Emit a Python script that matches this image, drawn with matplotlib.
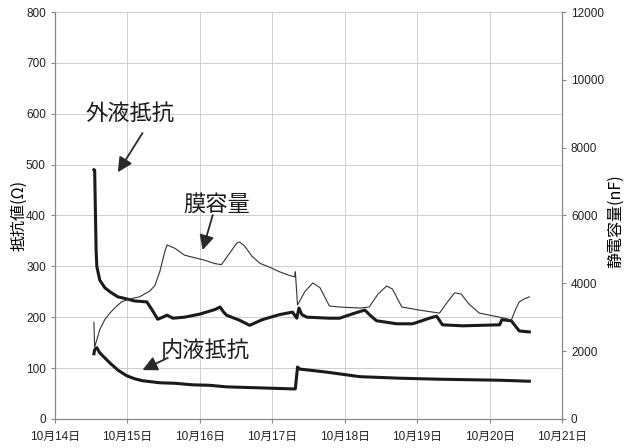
import matplotlib
matplotlib.use('Agg')
import matplotlib.pyplot as plt

plt.rcParams['font.family'] = ['Liberation Sans', 'Noto Sans CJK JP', 'DejaVu Sans']

# time axis in days (10/14 = 14.0)
day_ticks = [14, 15, 16, 17, 18, 19, 20, 21]
day_labels = ['10月14日', '10月15日', '10月16日', '10月17日',
              '10月18日', '10月19日', '10月20日', '10月21日']

# outer solution resistance (ohm)
outer_t = [14.54, 14.55, 14.57, 14.58, 14.62, 14.69, 14.76, 14.87, 14.99, 15.10,
           15.27, 15.34, 15.42, 15.49, 15.55, 15.63, 15.79, 16.00, 16.21, 16.28,
           16.33, 16.37, 16.55, 16.69, 16.86, 17.10, 17.28, 17.34, 17.37, 17.41,
           17.48, 17.79, 17.93, 18.14, 18.28, 18.35, 18.44, 18.72, 18.94, 19.17,
           19.27, 19.35, 19.63, 20.14, 20.17, 20.30, 20.41, 20.55]
outer_r = [490, 489, 332, 300, 273, 258, 250, 240, 236, 232,
           230, 215, 196, 200, 204, 198, 200, 206, 215, 220,
           210, 204, 194, 184, 195, 205, 210, 198, 218, 205,
           200, 198, 198, 208, 214, 204, 193, 187, 187, 198,
           202, 185, 183, 185, 195, 193, 173, 171]

# inner solution resistance (ohm)
inner_t = [14.54, 14.55, 14.58, 14.62, 14.69, 14.76, 14.87, 14.99, 15.10, 15.21,
           15.45, 15.66, 15.90, 16.14, 16.37, 16.83, 17.28, 17.32, 17.35, 17.38,
           17.75, 18.21, 18.76, 19.31, 19.72, 20.14, 20.55]
inner_r = [128, 136, 140, 130, 120, 110, 96, 85, 79, 75,
           71, 70, 67, 66, 63, 61, 59, 59, 102, 98,
           92, 83, 80, 78, 77, 76, 74]

# membrane capacitance (nF)
cap_t = [14.54, 14.55, 14.58, 14.62, 14.69, 14.76, 14.84, 14.92, 15.03, 15.17,
         15.31, 15.38, 15.45, 15.52, 15.55, 15.66, 15.79, 15.90, 16.07, 16.21,
         16.30, 16.41, 16.51, 16.55, 16.62, 16.72, 16.83, 16.97, 17.10, 17.24,
         17.31, 17.32, 17.35, 17.45, 17.56, 17.66, 17.79, 17.93, 18.21, 18.34,
         18.46, 18.58, 18.66, 18.79, 19.03, 19.31, 19.42, 19.52, 19.61, 19.72,
         19.86, 20.14, 20.21, 20.30, 20.36, 20.41, 20.48, 20.55]
cap_nf = [2850, 2120, 2330, 2630, 2930, 3120, 3300, 3450, 3540, 3600,
          3770, 3930, 4350, 4950, 5130, 5030, 4830, 4770, 4680, 4580,
          4550, 4880, 5180, 5220, 5100, 4800, 4590, 4470, 4340, 4230,
          4190, 4340, 3360, 3750, 4010, 3870, 3330, 3300, 3270, 3300,
          3680, 3920, 3830, 3300, 3210, 3120, 3450, 3720, 3680, 3380,
          3120, 3000, 2970, 2910, 3230, 3450, 3540, 3600]

fig = plt.figure(figsize=(6.3, 4.48), dpi=100)
ax = fig.add_axes([0.087, 0.065, 0.805, 0.908])
ax2 = ax.twinx()

ax.plot(outer_t, outer_r, color='#1a1a1a', lw=2.2, zorder=3)
ax.plot(inner_t, inner_r, color='#1a1a1a', lw=2.2, zorder=3)
ax2.plot(cap_t, cap_nf, color='#333333', lw=0.8, zorder=3)

ax.set_xlim(14, 21)
ax.set_ylim(0, 800)
ax2.set_ylim(0, 12000)
ax.set_xticks(day_ticks)
ax.set_xticklabels(day_labels)
ax.set_yticks(range(0, 801, 100))
ax2.set_yticks(range(0, 12001, 2000))

ax.grid(True, color='#cfcfcf', lw=0.7)
ax.set_axisbelow(True)
for a in (ax, ax2):
    for s in a.spines.values():
        s.set_color('#888888')
        s.set_linewidth(0.8)
    a.spines['top'].set_visible(False)
    a.tick_params(labelsize=8.5, colors='#222222', length=3, color='#888888')
ax.tick_params(axis='x', pad=6)

cjk = ['Noto Sans CJK JP', 'DejaVu Sans']
ax.set_ylabel('抵抗値(Ω)', fontsize=11.5, family=cjk)
ax2.set_ylabel('静電容量(nF)', fontsize=11.5, family=cjk)
ax.yaxis.set_label_coords(-0.055, 0.5)
ax2.yaxis.set_label_coords(1.09, 0.487)

# callouts: text placed on its own, arrow drawn from tail to head
arrow = dict(arrowstyle='-|>', mutation_scale=22, color='#2a2a2a', lw=1.3,
             shrinkA=0, shrinkB=0)
txt = dict(fontsize=16, ha='center', va='center', color='#1a1a1a')
ax.text(15.03, 598, '外液抵抗', **txt)
ax.annotate('', xy=(14.87, 485), xytext=(15.21, 562), arrowprops=arrow)
ax.text(16.23, 421, '膜容量', **txt)
ax.annotate('', xy=(16.04, 332), xytext=(16.18, 401), arrowprops=arrow)
ax.text(16.07, 132, '内液抵抗', **txt)
ax.annotate('', xy=(15.21, 96), xytext=(15.56, 120), arrowprops=arrow)

fig.savefig('out.png', dpi=100)
